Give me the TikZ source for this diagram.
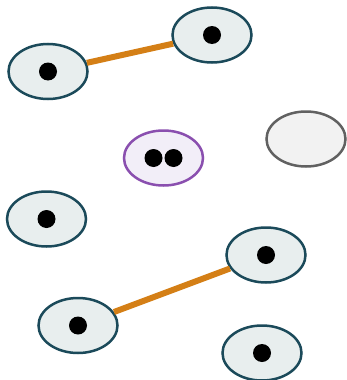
\documentclass[tikz,border=0pt]{standalone}
\usetikzlibrary{shapes.geometric}

\definecolor{cellline}{HTML}{1B4A5A}
\definecolor{cellfill}{HTML}{E8EEEE}
\definecolor{pairline}{HTML}{8A4FAF}
\definecolor{pairfill}{HTML}{F2EEF8}
\definecolor{emptyline}{HTML}{616161}
\definecolor{emptyfill}{HTML}{F2F2F2}
\definecolor{bondcol}{HTML}{D47F16}

\tikzset{
    cell/.style={ellipse, draw=cellline, fill=cellfill, line width=2.5pt,
        minimum width=79pt, minimum height=55pt, inner sep=0pt},
    paircell/.style={cell, draw=pairline, fill=pairfill},
    emptycell/.style={cell, draw=emptyline, fill=emptyfill},
    dot/.style={circle, fill=black, minimum size=18pt, inner sep=0pt},
    bond/.style={draw=bondcol, line width=6pt}
}

\begin{document}
\begin{tikzpicture}[x=1pt,y=-1pt]
        \useasboundingbox (0,0) rectangle (347,380);
        % --- Singly occupied cells ---
        \foreach \n/\x/\y in {a/48/71.5, b/212/35, c/46.5/219, d/266/255, e/78/325.5, f/262/353} {
            \node[cell] (\n) at (\x,\y) {};
            \node[dot] (dot-\n) at (\x,\y) {};
        }
        % --- Doubly occupied and empty cells ---
        \node[paircell] (p) at (163.5,158) {};
        \node[dot] (dot-p1) at (153.5,158) {};
        \node[dot] (dot-p2) at (173.5,158) {};
        \node[emptycell] (g) at (306,139) {};
        % --- Bonds ---
        \draw[bond] (a) -- (b);
        \draw[bond] (e) -- (d);
\end{tikzpicture}
\end{document}
